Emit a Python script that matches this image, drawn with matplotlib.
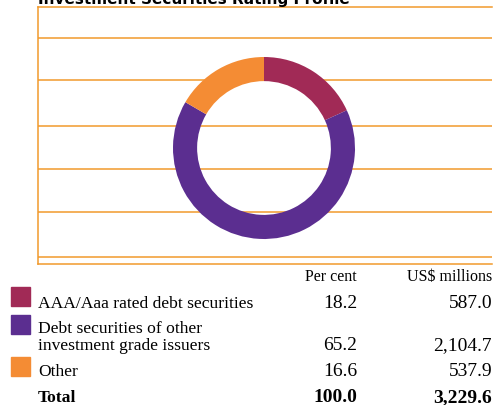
import matplotlib
matplotlib.use("Agg")
import matplotlib.pyplot as plt

W, H = 495, 406

title = "Investment Securities Rating Profile"
labels = ["AAA/Aaa rated debt securities",
          "Debt securities of other\ninvestment grade issuers",
          "Other"]
per_cent = [18.2, 65.2, 16.6]
us_millions = [587.0, 2104.7, 537.9]
total_label = "Total"
total_per_cent = 100.0
total_millions = 3229.6
col_headers = ["Per cent", "US$ millions"]
colors = ["#A12A56", "#5B2E90", "#F48C34"]
line_color = "#F19A2C"


def fx(x):
    return x / W


def fy(y):
    return 1 - y / H


fig = plt.figure(figsize=(W / 100, H / 100), dpi=100)

# background frame with orange rules
top, bottom, left, right = 7.5, 265, 38, 492
ax_bg = fig.add_axes([fx(left), fy(bottom), fx(right - left), (bottom - top) / H])
ax_bg.set_xlim(0, 1)
ax_bg.set_ylim(bottom, top)
for y in [38.5, 81, 126.5, 170, 213, 257.5]:
    ax_bg.axhline(y, color=line_color, lw=1.1)
for s in ["left", "top", "bottom"]:
    ax_bg.spines[s].set_color(line_color)
    ax_bg.spines[s].set_linewidth(1.1)
ax_bg.spines["right"].set_visible(False)
ax_bg.set_xticks([])
ax_bg.set_yticks([])

# donut
cx, cy, r = 264, 149, 91
ax = fig.add_axes([fx(cx - r), fy(cy + r), 2 * r / W, 2 * r / H])
ax.pie(per_cent, colors=colors, startangle=90, counterclock=False,
       radius=1, wedgeprops=dict(width=0.265, edgecolor="none"))
ax.set_xlim(-1, 1)
ax.set_ylim(-1, 1)
ax.set_aspect("equal")
ax.axis("off")

fig.text(fx(38), fy(4), title, fontsize=11, fontweight="bold",
         family="DejaVu Sans", va="baseline", ha="left")

# table
serif = "Liberation Serif"
fs = 12.6
nfs = 14
fig.text(fx(357), fy(281), col_headers[0], family=serif, fontsize=fs - 1.1, ha="right", va="baseline")
fig.text(fx(492), fy(281), col_headers[1], family=serif, fontsize=fs - 1.1, ha="right", va="baseline")

swatch_tops = [288, 316, 358]
baselines = [307.5, 350, 376.5]
text_tops = [307.5, 333, 376.5]
for i, lab in enumerate(labels):
    fig.patches.append(plt.Rectangle((fx(11), fy(swatch_tops[i] + 19)), 19 / W, 19 / H,
                                     transform=fig.transFigure, color=colors[i]))
    lines = lab.split("\n")
    for j, ln in enumerate(lines):
        fig.text(fx(38), fy(text_tops[i] + 17 * j), ln, family=serif, fontsize=fs,
                 ha="left", va="baseline")
    fig.text(fx(357), fy(baselines[i]), "{:.1f}".format(per_cent[i]), family=serif,
             fontsize=nfs, ha="right", va="baseline")
    fig.text(fx(492), fy(baselines[i]), "{:,.1f}".format(us_millions[i]), family=serif,
             fontsize=nfs, ha="right", va="baseline")

fig.text(fx(38), fy(402.5), total_label, family=serif, fontsize=fs, fontweight="bold",
         ha="left", va="baseline")
fig.text(fx(357), fy(402.5), "{:.1f}".format(total_per_cent), family=serif, fontsize=nfs,
         fontweight="bold", ha="right", va="baseline")
fig.text(fx(492), fy(402.5), "{:,.1f}".format(total_millions), family=serif, fontsize=nfs,
         fontweight="bold", ha="right", va="baseline")

fig.savefig("out.png", dpi=100)
